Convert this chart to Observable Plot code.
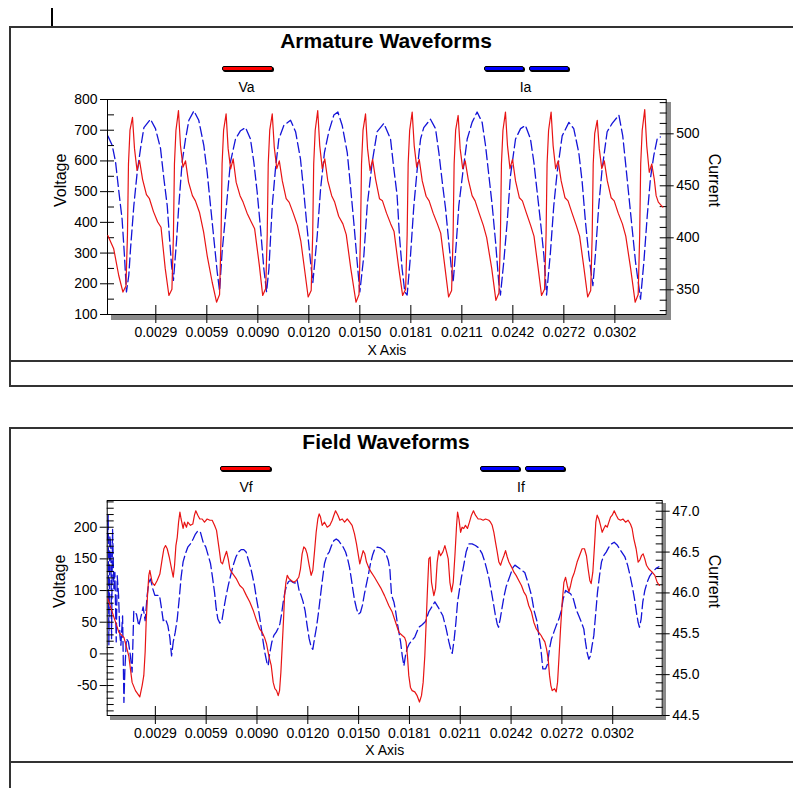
<!DOCTYPE html>
<html><head><meta charset="utf-8">
<script src="https://cdn.jsdelivr.net/npm/d3@7"></script>
<script src="https://cdn.jsdelivr.net/npm/@observablehq/plot@0.6"></script>
<style>
body{margin:0;background:#fff;font-family:"Liberation Sans",Arial,Helvetica,sans-serif;}
#root{position:relative;width:793px;height:788px;overflow:hidden;background:#fff;}
.hl{position:absolute;height:2px;background:#333;}
.vl{position:absolute;width:2px;background:#333;}
.title{position:absolute;left:0;width:772px;text-align:center;font-weight:bold;font-size:21px;line-height:21px;color:#000;}
.lab{position:absolute;width:100px;text-align:center;font-size:14px;line-height:14px;color:#000;}
.bar{position:absolute;height:3px;border:1px solid #000;border-radius:2px;box-shadow:1px 1px 0 #000;}
.shadow{position:absolute;background:#8a8a8a;}
.plotbox{position:absolute;left:0;}
</style></head>
<body><div id="root">
<div class="vl" style="left:51px;top:8px;height:19px;background:#000"></div>
<!-- panel 1 box -->
<div class="hl" style="left:10px;top:26px;width:783px"></div>
<div class="vl" style="left:9px;top:26px;height:361px"></div>
<div class="hl" style="left:10px;top:360px;width:783px"></div>
<div class="hl" style="left:10px;top:385px;width:783px"></div>
<div class="title" style="top:30px">Armature Waveforms</div>
<div class="bar" style="left:222px;top:66px;width:49px;background:#f00"></div>
<div class="bar" style="left:483.5px;top:66px;width:38px;background:#00f"></div>
<div class="bar" style="left:529px;top:66px;width:38px;background:#00f"></div>
<div class="lab" style="left:196.5px;top:80px">Va</div>
<div class="lab" style="left:475.5px;top:80px">Ia</div>
<div class="shadow" style="left:666.5px;top:102px;width:4.5px;height:217px"></div>
<div class="shadow" style="left:111px;top:315px;width:560px;height:4.5px"></div>
<!-- panel 2 box -->
<div class="hl" style="left:10px;top:427px;width:783px"></div>
<div class="vl" style="left:9px;top:427px;height:361px"></div>
<div class="hl" style="left:10px;top:761px;width:783px"></div>
<div class="title" style="top:431px">Field Waveforms</div>
<div class="bar" style="left:220px;top:466px;width:49px;background:#f00"></div>
<div class="bar" style="left:479.5px;top:466px;width:38px;background:#00f"></div>
<div class="bar" style="left:525px;top:466px;width:38px;background:#00f"></div>
<div class="lab" style="left:196px;top:480px">Vf</div>
<div class="lab" style="left:471px;top:480px">If</div>
<div class="shadow" style="left:662.5px;top:503px;width:3.5px;height:217px"></div>
<div class="shadow" style="left:110px;top:715.5px;width:555px;height:4.5px"></div>
</div>
<script>
// time in units of 1e-5 s
const xTicks = [0.00288, 0.00592, 0.00896, 0.0120, 0.01504, 0.01808, 0.02112, 0.02416, 0.0272, 0.03024];
const vaTicks = [100, 200, 300, 400, 500, 600, 700, 800];
const iaTicks = [350, 400, 450, 500];
const vfTicks = [-50, 0, 50, 100, 150, 200];
const ifTicks = [44.5, 45.0, 45.5, 46.0, 46.5, 47.0];

const va = [
[2,357],[37,314],[67,227],[92,173],[110,193],[119,360],[125,590],[134,700],
[149,742],[161,640],[176,569],[191,601],[209,540],[232,490],[250,477],[274,435],[299,401],[319,384],[344,250],[366,162],[384,182],[393,360],[399,590],[408,700],
[423,764],[435,650],[450,580],[465,600],[483,531],[506,487],[524,470],[548,433],[573,368],[594,292],[624,205],[650,140],[668,165],[677,360],[683,590],[692,700],
[707,753],[719,640],[734,574],[749,607],[767,530],[790,487],[808,466],[832,430],[857,401],[877,379],[905,260],[925,162],[943,185],[952,360],[958,590],[967,700],
[982,753],[994,645],[1009,575],[1024,600],[1042,535],[1065,477],[1083,465],[1107,430],[1132,390],[1152,340],[1175,245],[1196,157],[1214,178],[1223,360],[1229,590],[1238,700],
[1253,764],[1265,650],[1280,575],[1295,607],[1313,535],[1336,487],[1354,466],[1378,420],[1403,395],[1423,360],[1450,250],[1481,140],[1499,165],[1508,360],[1514,590],[1523,700],
[1538,753],[1550,640],[1565,569],[1580,605],[1598,540],[1621,477],[1639,470],[1663,430],[1688,395],[1708,370],[1735,255],[1759,162],[1777,182],[1786,360],[1792,590],[1801,700],
[1816,759],[1828,650],[1843,580],[1858,605],[1876,535],[1899,485],[1917,470],[1941,430],[1966,395],[1986,365],[2012,250],[2033,157],[2051,178],[2060,360],[2066,590],[2075,700],
[2090,748],[2102,640],[2117,575],[2132,600],[2150,540],[2173,487],[2191,470],[2215,430],[2240,390],[2260,350],[2290,250],[2315,146],[2333,170],[2342,360],[2348,590],[2357,700],
[2372,759],[2384,650],[2399,575],[2414,605],[2432,535],[2455,480],[2473,470],[2497,430],[2522,390],[2542,355],[2567,250],[2587,162],[2605,182],[2614,360],[2620,590],[2629,700],
[2644,759],[2656,650],[2671,575],[2686,600],[2704,535],[2727,480],[2745,470],[2769,430],[2794,390],[2814,355],[2840,250],[2862,157],[2880,178],[2889,360],[2895,590],[2904,690],
[2919,732],[2931,640],[2946,575],[2961,600],[2979,535],[3002,480],[3020,470],[3044,430],[3069,395],[3089,355],[3118,250],[3145,140],[3163,165],[3172,360],[3178,590],[3187,700],
[3202,767],[3214,650],[3229,563],[3244,590],[3259,540],[3270,487],[3283,466],[3300,455],[3310,450]
];

const ia = [
[2,498],[28,489],[48,473],[68,444],[87,418],[101,383],[113,348],[127,364],[137,389],[157,431],[177,463],[197,486],[217,506],[256,514],[286,505],[316,486],[336,457],[356,431],[370,399],[382,373],[393,359],[411,396],[425,431],[445,473],[465,495],[485,513],[515,522],[544,513],[574,489],[594,463],[614,431],[634,399],[654,367],[668,349],[683,386],[709,431],[733,473],[763,495],[793,503],[823,506],[852,495],[872,473],[892,444],[912,409],[932,370],[948,348],[962,370],[982,431],[1001,466],[1021,495],[1051,508],[1091,513],[1121,502],[1150,476],[1170,444],[1190,409],[1210,377],[1224,357],[1250,402],[1270,447],[1293,482],[1319,502],[1349,518],[1373,521],[1399,508],[1429,482],[1448,450],[1468,415],[1488,377],[1504,348],[1528,383],[1548,431],[1578,473],[1607,502],[1647,510],[1687,495],[1707,466],[1726,441],[1740,402],[1756,370],[1772,348],[1786,345],[1806,383],[1826,431],[1846,466],[1866,495],[1885,506],[1925,514],[1955,505],[1975,482],[1995,454],[2015,428],[2034,396],[2050,370],[2060,357],[2078,393],[2094,431],[2118,463],[2144,495],[2173,511],[2203,521],[2233,511],[2253,489],[2273,460],[2293,431],[2313,396],[2332,357],[2342,345],[2362,377],[2382,415],[2402,460],[2432,495],[2462,505],[2491,508],[2521,495],[2541,473],[2561,444],[2581,415],[2601,383],[2617,345],[2640,386],[2660,431],[2680,463],[2710,498],[2750,511],[2779,505],[2809,482],[2829,454],[2849,415],[2869,383],[2893,354],[2909,386],[2928,431],[2948,466],[2978,502],[3008,510],[3048,518],[3071,498],[3087,473],[3107,441],[3127,409],[3147,377],[3177,341],[3197,377],[3217,421],[3236,457],[3256,479],[3276,495],[3295,497]
];

const vf = [
[4,87],[30,66],[70,34],[100,26],[129,-3],[149,-45],[169,-58],[195,-68],[209,-50],[219,-34],[227,3],[233,50],[241,92],[249,124],[255,132],[269,113],[283,108],[299,116],[315,126],[329,150],[339,166],[349,171],[359,166],[371,153],[383,137],[395,121],[403,140],[411,171],[419,184],[427,208],[435,224],[442,213],[454,198],[462,208],[474,200],[482,208],[498,203],[512,205],[522,219],[530,226],[542,219],[554,213],[568,213],[582,208],[598,213],[614,211],[628,211],[642,203],[654,195],[664,176],[672,161],[680,145],[690,142],[702,153],[714,162],[724,150],[734,134],[744,129],[758,124],[774,118],[793,108],[813,103],[833,92],[853,82],[873,69],[893,53],[911,40],[927,34],[941,26],[953,16],[967,-3],[981,-18],[993,-45],[1003,-55],[1013,-58],[1023,-66],[1031,-58],[1039,-29],[1047,13],[1055,55],[1061,92],[1069,113],[1077,124],[1087,119],[1101,116],[1116,113],[1132,116],[1146,121],[1156,134],[1166,158],[1176,169],[1186,166],[1196,158],[1208,140],[1220,124],[1230,132],[1240,161],[1250,192],[1260,213],[1268,221],[1276,216],[1286,203],[1300,208],[1316,200],[1332,203],[1346,211],[1356,219],[1366,226],[1380,219],[1392,211],[1406,213],[1420,208],[1436,213],[1451,208],[1465,203],[1479,190],[1491,174],[1501,158],[1511,142],[1521,153],[1531,163],[1541,158],[1551,145],[1563,137],[1579,129],[1599,121],[1619,112],[1639,103],[1659,92],[1685,76],[1705,66],[1725,50],[1745,34],[1765,29],[1779,26],[1788,19],[1796,-3],[1804,-34],[1814,-53],[1824,-58],[1840,-60],[1854,-66],[1868,-76],[1880,-66],[1890,-45],[1900,-3],[1908,50],[1916,103],[1924,150],[1932,153],[1940,113],[1954,92],[1964,103],[1974,145],[1984,163],[1994,155],[2008,161],[2020,171],[2030,161],[2040,150],[2050,113],[2060,98],[2070,113],[2080,155],[2090,203],[2096,224],[2104,213],[2114,192],[2123,200],[2133,198],[2143,203],[2155,198],[2167,208],[2179,219],[2191,226],[2203,219],[2219,213],[2233,213],[2249,211],[2263,213],[2283,211],[2293,208],[2303,203],[2313,192],[2323,176],[2333,161],[2343,145],[2353,140],[2363,148],[2373,155],[2383,163],[2393,153],[2403,145],[2419,137],[2433,129],[2446,124],[2462,116],[2478,108],[2492,98],[2506,92],[2522,76],[2538,66],[2552,50],[2566,40],[2582,34],[2596,29],[2606,24],[2618,19],[2628,8],[2638,-8],[2646,-34],[2654,-50],[2662,-58],[2676,-55],[2686,-60],[2694,-45],[2702,-8],[2712,40],[2722,82],[2732,113],[2742,121],[2752,108],[2762,98],[2772,108],[2781,119],[2795,129],[2811,145],[2825,155],[2841,166],[2855,166],[2867,155],[2877,134],[2887,116],[2895,111],[2905,129],[2915,171],[2923,208],[2931,219],[2941,213],[2951,203],[2961,192],[2971,198],[2981,203],[2991,200],[3001,208],[3011,216],[3021,219],[3033,226],[3045,219],[3057,213],[3071,211],[3085,213],[3101,208],[3116,211],[3130,205],[3140,198],[3150,182],[3164,166],[3176,145],[3186,148],[3196,155],[3206,158],[3216,150],[3226,140],[3240,134],[3260,129],[3276,124],[3290,113],[3304,108]
];

const iF = [
[2,46.66],[6,46.95],[10,45.36],[16,46.70],[22,46.58],[26,45.44],[32,46.78],[40,46.05],[46,46.25],[54,45.40],[60,46.21],[68,45.97],[76,45.48],[82,45.36],[92,45.72],[100,44.66],[106,45.07],[115,45.44],[127,45.40],[139,45.23],[149,45.03],[159,45.78],[175,45.74],[189,45.60],[201,45.70],[215,45.83],[227,45.66],[239,45.97],[249,46.13],[259,46.17],[273,46.05],[285,45.97],[299,45.97],[313,45.97],[325,45.81],[335,45.66],[349,45.68],[363,45.60],[375,45.45],[385,45.23],[395,45.40],[407,45.52],[419,45.68],[431,45.93],[442,46.19],[454,46.38],[468,46.48],[482,46.56],[498,46.60],[514,46.66],[528,46.72],[542,46.76],[558,46.74],[574,46.62],[590,46.56],[604,46.46],[618,46.36],[630,46.19],[642,46.01],[652,45.81],[662,45.68],[674,45.63],[686,45.66],[698,45.81],[710,45.95],[724,46.09],[738,46.21],[754,46.34],[770,46.44],[785,46.50],[801,46.53],[817,46.53],[831,46.50],[845,46.40],[857,46.32],[869,46.21],[881,46.09],[893,45.93],[907,45.77],[921,45.58],[933,45.40],[943,45.27],[955,45.15],[963,45.11],[973,45.27],[985,45.40],[997,45.48],[1011,45.52],[1023,45.57],[1033,45.62],[1043,45.74],[1053,45.89],[1063,46.01],[1073,46.09],[1085,46.14],[1097,46.15],[1110,46.13],[1124,46.12],[1136,46.16],[1148,46.03],[1160,45.97],[1172,45.89],[1184,45.78],[1196,45.60],[1208,45.44],[1220,45.34],[1230,45.31],[1240,45.44],[1252,45.58],[1264,45.76],[1276,45.97],[1288,46.17],[1300,46.36],[1314,46.46],[1328,46.50],[1342,46.58],[1356,46.64],[1370,46.66],[1384,46.64],[1398,46.60],[1412,46.56],[1426,46.50],[1438,46.42],[1449,46.32],[1459,46.19],[1469,46.05],[1479,45.92],[1491,45.81],[1503,45.74],[1515,45.76],[1527,45.85],[1539,45.99],[1551,46.11],[1563,46.23],[1575,46.36],[1587,46.46],[1599,46.53],[1615,46.56],[1635,46.55],[1655,46.52],[1669,46.47],[1681,46.40],[1691,46.29],[1701,45.97],[1715,45.89],[1725,45.78],[1735,45.64],[1745,45.52],[1755,45.40],[1765,45.23],[1775,45.11],[1784,45.23],[1794,45.32],[1808,45.38],[1824,45.42],[1840,45.46],[1864,45.58],[1884,45.61],[1904,45.65],[1924,45.77],[1960,45.89],[1984,45.81],[2008,45.72],[2028,45.56],[2044,45.40],[2056,45.30],[2064,45.26],[2076,45.44],[2086,45.64],[2096,45.89],[2108,46.05],[2119,46.19],[2133,46.34],[2147,46.50],[2163,46.60],[2183,46.60],[2203,46.58],[2223,46.55],[2243,46.48],[2259,46.38],[2273,46.27],[2285,46.17],[2297,46.03],[2309,45.89],[2321,45.74],[2333,45.62],[2341,45.58],[2351,45.68],[2363,45.83],[2375,45.97],[2387,46.08],[2399,46.15],[2413,46.23],[2427,46.31],[2439,46.34],[2472,46.29],[2498,46.25],[2518,46.12],[2538,45.97],[2554,45.78],[2570,45.66],[2582,45.48],[2594,45.32],[2606,45.07],[2622,45.07],[2634,45.13],[2646,45.32],[2658,45.44],[2672,45.52],[2686,45.60],[2702,45.68],[2716,45.78],[2728,45.93],[2742,46.03],[2756,46.01],[2772,45.99],[2788,45.93],[2805,45.80],[2821,45.72],[2837,45.64],[2851,45.56],[2861,45.40],[2871,45.27],[2881,45.19],[2891,45.23],[2901,45.36],[2911,45.48],[2921,45.72],[2933,46.01],[2945,46.21],[2957,46.38],[2971,46.46],[2985,46.50],[3001,46.56],[3017,46.60],[3033,46.62],[3049,46.59],[3065,46.54],[3097,46.44],[3113,46.34],[3128,46.21],[3142,46.07],[3154,45.93],[3166,45.76],[3176,45.64],[3184,45.58],[3194,45.68],[3204,45.89],[3216,46.03],[3230,46.13],[3246,46.21],[3264,46.26],[3284,46.30],[3300,46.32]
];

const toRows = (arr) => arr.map(([t, v]) => ({t: t * 1e-5, v}));
const FONT = "'Liberation Sans', Arial, Helvetica, sans-serif";

function build(cfg) {
  const common = {
    width: 793, height: cfg.h,
    marginTop: cfg.mt, marginBottom: cfg.mb, marginLeft: cfg.ml, marginRight: cfg.mr,
    style: {background: "transparent", fontFamily: FONT, fontSize: "14px", color: "#000", overflow: "visible"}
  };
  const cur = Plot.plot({
    ...common,
    x: {domain: cfg.xd, axis: null},
    y: {domain: cfg.cd},
    marks: [
      Plot.axisY(cfg.cTicks, {anchor: "right", tickSize: 7, tickPadding: 3, tickFormat: cfg.cFmt, label: null}),
      Plot.axisY(cfg.cMinor, {anchor: "right", tickSize: 7, dx: -7, fill: "none", label: null}),
      Plot.text(["Current"], {text: d => d, frameAnchor: "right", dx: cfg.cdx, rotate: 90, fontSize: 16}),
      Plot.line(toRows(cfg.cData), {x: "t", y: "v", stroke: "#1414d8", strokeWidth: 1.3, strokeDasharray: "10,4"})
    ]
  });
  const volt = Plot.plot({
    ...common,
    x: {domain: cfg.xd},
    y: {domain: cfg.vd},
    marks: [
      Plot.frame({stroke: "#000"}),
      Plot.axisX(xTicks, {tickSize: 9, tickPadding: 4, tickFormat: d => d.toFixed(4), label: null}),
      Plot.axisX(xTicks, {tickSize: 9, dy: -9, fill: "none", label: null}),
      Plot.text(["X Axis"], {text: d => d, frameAnchor: "bottom", dy: cfg.xdy}),
      Plot.axisY(cfg.vTicks, {anchor: "left", tickSize: 7, tickPadding: 3, tickFormat: d => `${d}`, label: null}),
      Plot.axisY(cfg.vMinor, {anchor: "left", tickSize: 7, dx: 7, fill: "none", label: null}),
      Plot.text(["Voltage"], {text: d => d, frameAnchor: "left", dx: -47, rotate: -90, fontSize: 16}),
      Plot.line(toRows(cfg.vData), {x: "t", y: "v", stroke: "#e81414", strokeWidth: 1.2})
    ]
  });
  for (const svg of [cur, volt]) {
    const box = document.createElement("div");
    box.className = "plotbox";
    box.style.top = cfg.top + "px";
    box.appendChild(svg);
    document.getElementById("root").appendChild(box);
  }
}

build({
  top: 60, h: 300, mt: 39, mb: 46, ml: 107, mr: 127.3,
  xd: [0, 0.0333], vd: [100, 800], cd: [326.25, 533],
  vTicks: vaTicks, vMinor: d3.range(100, 801, 50),
  cTicks: iaTicks, cMinor: d3.range(330, 531, 10), cFmt: d => `${d}`,
  vData: va, cData: ia, cdx: 47.5, xdy: 40
});
build({
  top: 460, h: 300, mt: 40, mb: 45, ml: 106.7, mr: 131.3,
  xd: [0, 0.0332], vd: [-97.3, 242.2], cd: [44.5, 47.131],
  vTicks: vfTicks, vMinor: d3.range(-90, 241, 10),
  cTicks: ifTicks, cMinor: d3.range(44.5, 47.15, 0.1), cFmt: d => d.toFixed(1),
  vData: vf, cData: iF, cdx: 51.5, xdy: 39
});
</script>
</body></html>
